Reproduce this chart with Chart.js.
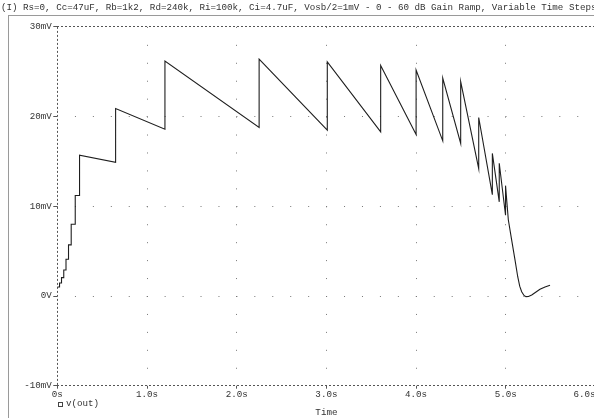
<!DOCTYPE html>
<html>
<head>
<meta charset="utf-8">
<script src="https://cdn.jsdelivr.net/npm/chart.js@4.4.1/dist/chart.umd.min.js"></script>
<style>
  html, body { margin:0; padding:0; background:#fff; width:594px; height:418px; overflow:hidden; }
  #wrap { position:absolute; left:0; top:0; width:620px; height:418px; }
  .txt { position:absolute; font-family:"Liberation Mono", "DejaVu Sans Mono", monospace; font-size:9.2px; line-height:11px; color:#333; white-space:pre; }
  #frameL { position:absolute; left:8px; top:15px; width:1px; height:403px; background:#9a9a9a; }
  #frameT { position:absolute; left:8px; top:15px; width:600px; height:1px; background:#9a9a9a; }
  #sq { position:absolute; left:58px; top:402px; width:3px; height:3px; border:1px solid #444; }
</style>
</head>
<body>
<div id="wrap"><canvas id="c" width="620" height="418"></canvas></div>
<div id="frameL"></div>
<div id="frameT"></div>
<div class="txt" style="left:1px; top:2px;">(I) Rs=0, Cc=47uF, Rb=1k2, Rd=240k, Ri=100k, Ci=4.7uF, Vosb/2=1mV - 0 - 60 dB Gain Ramp, Variable Time Steps</div>
<div id="sq"></div>
<div class="txt" style="left:66px; top:398px;">v(out)</div>
<script>
// ---- data (time in s, v(out) in mV) ----
const time = [
  0, 0.025, 0.025, 0.047, 0.047, 0.072, 0.072, 0.097, 0.097, 0.125, 0.125, 0.155, 0.155, 0.200, 0.200, 0.248, 0.248,
  0.650, 0.650,
  1.200, 1.200,
  2.250, 2.250,
  3.010, 3.010,
  3.605, 3.605,
  4.000, 4.000,
  4.297, 4.297,
  4.497, 4.497,
  4.698, 4.698,
  4.850, 4.850,
  4.927, 4.927,
  4.997, 4.997,
  5.028, 5.066, 5.103, 5.133, 5.155, 5.177, 5.203, 5.225, 5.253, 5.289, 5.337, 5.381, 5.437, 5.493
];
const vout = [
  1.0, 1.0, 1.45, 1.45, 2.05, 2.05, 2.9, 2.9, 4.1, 4.1, 5.7, 5.7, 8.0, 8.0, 11.2, 11.2, 15.7,
  14.9, 20.9,
  18.6, 26.2,
  18.8, 26.4,
  18.5, 26.1,
  18.3, 25.7,
  18.0, 25.2,
  17.3, 24.3,
  17.0, 23.9,
  14.2, 19.9,
  11.3, 15.9,
  10.5, 14.8,
  9.0, 12.3,
  8.5, 6.2, 4.0, 2.15, 1.1, 0.48, 0.06, -0.07, -0.05, 0.12, 0.45, 0.75, 1.0, 1.2
];
const xTicks = [0, 1, 2, 3, 4, 5, 6];
const xTickLabels = ['0s', '1.0s', '2.0s', '3.0s', '4.0s', '5.0s', '6.0s    '];
const yTicks = [-10, 0, 10, 20, 30];
const yTickLabels = ['-10mV', '0V', '10mV', '20mV', '30mV'];

const FONT = { family: '"Liberation Mono", "DejaVu Sans Mono", monospace', size: 9.2 };
const DOT = [1, 16.94];
const DASH = [2, 2];

const pts = time.map((t, i) => ({ x: t, y: vout[i] }));

function edgeDash(ctx) {
  const n = ctx.scale.ticks.length;
  return (ctx.index === 0 || ctx.index === n - 1) ? DASH : DOT;
}
function edgeColor(ctx) {
  const n = ctx.scale.ticks.length;
  return (ctx.index === 0 || ctx.index === n - 1) ? '#555' : '#777';
}

new Chart(document.getElementById('c'), {
  type: 'line',
  data: {
    datasets: [{
      label: 'v(out)',
      data: pts,
      borderColor: '#1e1e1e',
      borderWidth: 1.1,
      pointRadius: 0,
      tension: 0,
      fill: false
    }]
  },
  options: {
    responsive: false,
    animation: false,
    devicePixelRatio: 1,
    layout: { padding: { left: 0, top: 26.9, right: 24.5, bottom: 0 } },
    plugins: { legend: { display: false }, tooltip: { enabled: false } },
    scales: {
      x: {
        type: 'linear',
        min: 0, max: 6,
        afterBuildTicks: s => { s.ticks = xTicks.map(v => ({ value: v })); },
        afterFit: s => { s.height = 32.3; },
        ticks: {
          autoSkip: false, maxRotation: 0, padding: 0,
          color: '#333', font: FONT,
          callback: (v, i) => xTickLabels[i]
        },
        grid: {
          color: edgeColor, lineWidth: 1,
          tickLength: 3, tickColor: '#555', drawTicks: true
        },
        border: { display: false, dash: edgeDash },
        title: { display: true, text: 'Time', color: '#333', font: FONT, padding: { top: 0, bottom: 0 } }
      },
      y: {
        type: 'linear',
        min: -10, max: 30,
        afterBuildTicks: s => { s.ticks = yTicks.map(v => ({ value: v })); },
        afterFit: s => { s.width = 57.3; },
        ticks: {
          autoSkip: false, padding: 1.5,
          color: '#333', font: FONT,
          callback: (v, i) => yTickLabels[i]
        },
        grid: {
          color: edgeColor, lineWidth: 1,
          tickLength: 4, tickColor: '#555', drawTicks: true
        },
        border: { display: false, dash: edgeDash }
      }
    }
  }
});
</script>
</body>
</html>
